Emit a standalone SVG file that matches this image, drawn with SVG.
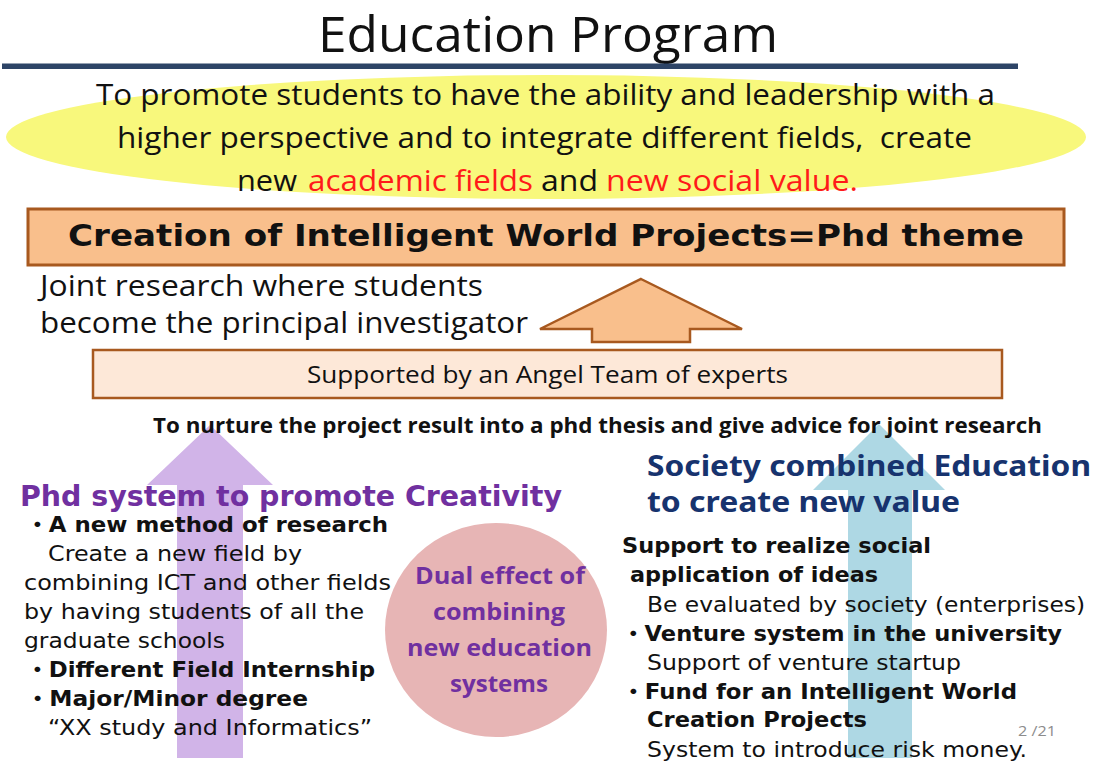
<svg xmlns="http://www.w3.org/2000/svg" width="1098" height="762" viewBox="0 0 1098 762">
<style>
.cal{font-family:"Open Sans","Noto Sans",sans-serif;fill:#111}
.ver{font-family:"DejaVu Sans","Noto Sans CJK JP",sans-serif;fill:#111}
.nt{font-family:"Noto Sans","DejaVu Sans",sans-serif}
.b{font-weight:bold}
.red{fill:#ff1a1a}
.pur{fill:#7030a0}
.navy{fill:#17336e}
.brown{stroke:#a8591f;stroke-width:2.5}
</style>
<rect width="1098" height="762" fill="#ffffff"/>
<g id="title">
<text class="cal" x="318" y="52" font-size="50" textLength="460" lengthAdjust="spacingAndGlyphs">Education Program</text>
<rect x="2" y="63.5" width="1016" height="5.5" fill="#2d4466"/>
</g>
<g id="goal">
<ellipse cx="546" cy="137" rx="540" ry="62" fill="#f8f87c"/>
<text class="cal" x="96" y="105" font-size="30" textLength="899" lengthAdjust="spacingAndGlyphs">To promote students to have the ability and leadership with a</text>
<text class="cal" x="117" y="148" font-size="30" textLength="855" lengthAdjust="spacingAndGlyphs" xml:space="preserve">higher perspective and to integrate different fields,  create</text>
<text class="cal" x="237" y="191" font-size="30" textLength="60" lengthAdjust="spacingAndGlyphs">new</text>
<text class="cal red" x="308" y="191" font-size="30" textLength="225" lengthAdjust="spacingAndGlyphs">academic fields</text>
<text class="cal" x="541" y="191" font-size="30" textLength="57" lengthAdjust="spacingAndGlyphs">and</text>
<text class="cal red" x="606" y="191" font-size="30" textLength="252" lengthAdjust="spacingAndGlyphs">new social value.</text>
</g>
<g id="projects">
<rect x="28" y="209" width="1036" height="56" fill="#f9bf8c" stroke="#a8591f" stroke-width="3"/>
<text class="ver b" x="68" y="246" font-size="31" textLength="956" lengthAdjust="spacingAndGlyphs">Creation of Intelligent World Projects=Phd theme</text>
</g>
<g id="joint">
<text class="cal" x="40" y="296" font-size="29" textLength="443" lengthAdjust="spacingAndGlyphs">Joint research where students</text>
<text class="cal" x="40" y="333" font-size="29" textLength="488" lengthAdjust="spacingAndGlyphs">become the principal investigator</text>
</g>
<g id="connectors">
<polygon points="641,279 742,329 690,329 690,342 592,342 592,329 540,329" fill="#f9bf8c" class="brown"/>
<polygon points="210,425 273,485 243,485 243,758 177,758 177,485 147,485" fill="#d1b4e8"/>
<polygon points="879,424 945,490 912,490 912,758 848,758 848,490 813,490" fill="#aed8e4"/>
</g>
<g id="angel">
<rect x="93" y="350" width="909" height="48" fill="#fde8d8" class="brown"/>
<text class="cal" x="307" y="383" font-size="24" textLength="481" lengthAdjust="spacingAndGlyphs">Supported by an Angel Team of experts</text>
</g>
<g id="nurture">
<text class="cal b" x="153" y="433" font-size="21" textLength="889" lengthAdjust="spacingAndGlyphs">To nurture the project result into a phd thesis and give advice for joint research</text>
</g>
<g id="phd">
<text class="ver b pur" x="20" y="506" font-size="28" textLength="542" lengthAdjust="spacingAndGlyphs">Phd system to promote Creativity</text>
<text class="ver b" x="26" y="532" font-size="21" textLength="362" lengthAdjust="spacingAndGlyphs">・A new method of research</text>
<text class="ver" x="48" y="561" font-size="21" textLength="254" lengthAdjust="spacingAndGlyphs">Create a new field by</text>
<text class="ver" x="24" y="590" font-size="21" textLength="367" lengthAdjust="spacingAndGlyphs">combining ICT and other fields</text>
<text class="ver" x="24" y="619" font-size="21" textLength="340" lengthAdjust="spacingAndGlyphs">by having students of all the</text>
<text class="ver" x="24" y="648" font-size="21" textLength="201" lengthAdjust="spacingAndGlyphs">graduate schools</text>
<text class="ver b" x="26" y="677" font-size="21" textLength="349" lengthAdjust="spacingAndGlyphs">・Different Field Internship</text>
<text class="ver b" x="26" y="706" font-size="21" textLength="282" lengthAdjust="spacingAndGlyphs">・Major/Minor degree</text>
<text class="ver" x="48" y="735" font-size="21" textLength="324" lengthAdjust="spacingAndGlyphs">“XX study and Informatics”</text>
</g>
<g id="dual">
<ellipse cx="496" cy="630" rx="111" ry="107" fill="#e7b5b5"/>
<text class="cal b pur" x="415" y="584" font-size="24" textLength="170" lengthAdjust="spacingAndGlyphs">Dual effect of</text>
<text class="cal b pur" x="433" y="620" font-size="24" textLength="132" lengthAdjust="spacingAndGlyphs">combining</text>
<text class="cal b pur" x="407" y="656" font-size="24" textLength="185" lengthAdjust="spacingAndGlyphs">new education</text>
<text class="cal b pur" x="450" y="692" font-size="24" textLength="98" lengthAdjust="spacingAndGlyphs">systems</text>
</g>
<g id="society">
<text class="nt b navy" x="647" y="476" font-size="29" textLength="444" lengthAdjust="spacingAndGlyphs">Society combined Education</text>
<text class="nt b navy" x="647" y="512" font-size="29" textLength="313" lengthAdjust="spacingAndGlyphs">to create new value</text>
<text class="ver b" x="622" y="553" font-size="21" textLength="309" lengthAdjust="spacingAndGlyphs">Support to realize social</text>
<text class="ver b" x="630" y="582" font-size="21" textLength="248" lengthAdjust="spacingAndGlyphs">application of ideas</text>
<text class="ver" x="647" y="612" font-size="21" textLength="438" lengthAdjust="spacingAndGlyphs">Be evaluated by society (enterprises)</text>
<text class="ver b" x="622" y="641" font-size="21" textLength="440" lengthAdjust="spacingAndGlyphs">・Venture system in the university</text>
<text class="ver" x="647" y="670" font-size="21" textLength="314" lengthAdjust="spacingAndGlyphs">Support of venture startup</text>
<text class="ver b" x="622" y="699" font-size="21" textLength="395" lengthAdjust="spacingAndGlyphs">・Fund for an Intelligent World</text>
<text class="ver b" x="647" y="727" font-size="21" textLength="220" lengthAdjust="spacingAndGlyphs">Creation Projects</text>
<text class="ver" x="647" y="757" font-size="21" textLength="380" lengthAdjust="spacingAndGlyphs">System to introduce risk money.</text>
</g>
<g id="page">
<text class="cal" x="1018" y="736" font-size="14" textLength="38" lengthAdjust="spacingAndGlyphs" style="fill:#8c8c8c">2 /21</text>
</g>
</svg>
